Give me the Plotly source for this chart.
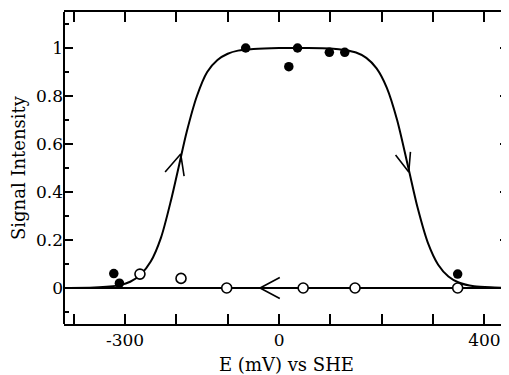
import plotly.graph_objects as go

# Fitted curve (potential in mV vs signal intensity)
curve_x = [-420, -360, -330, -310, -290, -270, -250, -230, -210, -196, -180, -160,
           -140, -120, -100, -80, -50, 0, 50, 100, 130, 150, 170, 190, 210, 230,
           252, 270, 290, 310, 330, 350, 380, 420, 450]
curve_y = [0.0, 0.002, 0.006, 0.012, 0.026, 0.055, 0.11, 0.21, 0.37, 0.5, 0.65, 0.80,
           0.90, 0.95, 0.976, 0.989, 0.996, 1.0, 1.0, 0.998, 0.991, 0.981, 0.959, 0.915,
           0.834, 0.70, 0.5, 0.334, 0.188, 0.097, 0.048, 0.023, 0.007, 0.002, 0.0]

# Return (baseline) line
base_x = [-420, 450]
base_y = [0, 0]

# Filled circles
filled_x = [-322, -311, -65, 19, 36, 98, 128, 348]
filled_y = [0.06, 0.02, 1.0, 0.922, 1.0, 0.982, 0.982, 0.058]

# Open circles
open_x = [-271, -191, -102, 47, 148, 348]
open_y = [0.058, 0.04, 0.0, 0.0, 0.0, 0.0]

# Direction arrows (arm, tip, arm)
arrow_up_x = [-222, -191.6, -185]
arrow_up_y = [0.483, 0.558, 0.466]
arrow_down_x = [227, 252.7, 256]
arrow_down_y = [0.554, 0.483, 0.567]
arrow_left_x = [1.4, -37, 1.4]
arrow_left_y = [0.044, 0.0, -0.044]

# Axis ticks
x_tickvals = [-400, -300, -200, -100, 0, 100, 200, 300, 400]
x_ticktext = ["", "-300", "", "", "0", "", "", "", "400"]
y_tickvals = [0, 0.2, 0.4, 0.6, 0.8, 1.0]
y_ticktext = ["0", "0.2", "0.4", "0.6", "0.8", "1"]

FONT = "DejaVu Serif, Liberation Serif, serif"

fig = go.Figure()
line_style = dict(color="black", width=2)
fig.add_trace(go.Scatter(x=base_x, y=base_y, mode="lines", line=line_style, hoverinfo="skip"))
fig.add_trace(go.Scatter(x=curve_x, y=curve_y, mode="lines", line=dict(color="black", width=2, shape="spline", smoothing=0.8)))
for ax, ay in [(arrow_up_x, arrow_up_y), (arrow_down_x, arrow_down_y), (arrow_left_x, arrow_left_y)]:
    fig.add_trace(go.Scatter(x=ax, y=ay, mode="lines", line=dict(color="black", width=1.6)))
fig.add_trace(go.Scatter(x=open_x, y=open_y, mode="markers",
                         marker=dict(symbol="circle", size=10, color="white",
                                     line=dict(color="black", width=1.6))))
fig.add_trace(go.Scatter(x=filled_x, y=filled_y, mode="markers",
                         marker=dict(symbol="circle", size=9.5, color="black",
                                     line=dict(color="black", width=0))))

fig.update_layout(
    width=501, height=367,
    margin=dict(l=56, r=0, t=4, b=51),
    plot_bgcolor="white", paper_bgcolor="white",
    showlegend=False,
    font=dict(family=FONT, color="black", size=17),
    xaxis=dict(range=[-419, 448], tickvals=x_tickvals, ticktext=x_ticktext,
               ticks="inside", ticklen=10, tickwidth=2, tickcolor="black",
               showline=True, linecolor="black", linewidth=2, mirror="ticks",
               showgrid=False, zeroline=False, automargin=False,
               tickfont=dict(family=FONT, size=17, color="black"),
               title=dict(text="E (mV) vs SHE", font=dict(family=FONT, size=18, color="black"), standoff=10)),
    yaxis=dict(range=[-0.15, 1.15], tickvals=y_tickvals, ticktext=y_ticktext,
               ticks="inside", ticklen=9, tickwidth=2, tickcolor="black",
               showline=False, mirror="ticks", automargin=False,
               minor=dict(dtick=0.1, tick0=0.1, ticks="inside", ticklen=5, tickwidth=2, tickcolor="black"),
               showgrid=False, zeroline=False,
               tickfont=dict(family=FONT, size=17, color="black"),
               title=dict(text="Signal Intensity", font=dict(family=FONT, size=18, color="black"), standoff=6)),
    shapes=[dict(type="line", xref="paper", yref="paper", x0=0, x1=0, y0=0, y1=1,
                 line=dict(color="black", width=2))],
)

fig.write_html("out.html")
